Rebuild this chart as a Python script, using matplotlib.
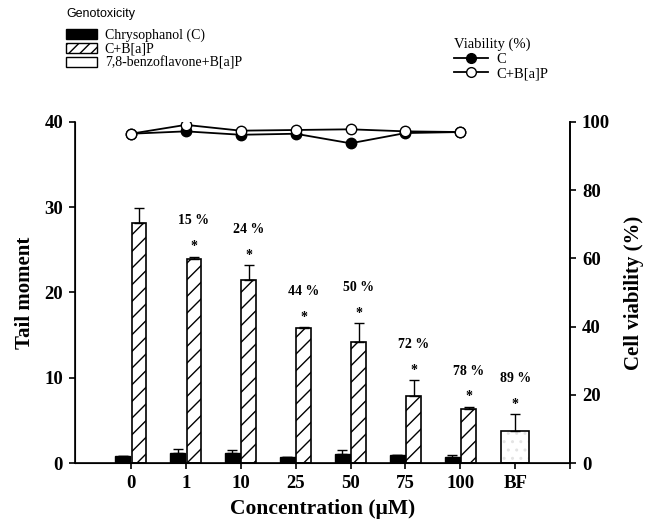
import numpy as np
import matplotlib
matplotlib.use('Agg')
import matplotlib.pyplot as plt
from matplotlib.patches import Patch
from matplotlib.lines import Line2D

conc_labels = ['0', '1', '10', '25', '50', '75', '100']
c_tail = [0.85, 1.2, 1.2, 0.7, 1.1, 0.9, 0.7]
c_err = [0.0, 0.4, 0.35, 0.0, 0.45, 0.05, 0.3]
cb_tail = [28.1, 23.9, 21.4, 15.8, 14.2, 7.9, 6.3]
cb_err = [1.8, 0.3, 1.8, 0.1, 2.2, 1.8, 0.3]
bf_tail = 3.8
bf_err = 1.9
inhib = ['', '15 %', '24 %', '44 %', '50 %', '72 %', '78 %']
bf_inhib = '89 %'
viab_c = [96.5, 97.2, 96.2, 96.5, 93.7, 96.7, 97.0]
viab_cb = [96.5, 99.1, 97.4, 97.6, 97.8, 97.2, 97.0]

serif = 'Liberation Serif'
plt.rcParams['font.family'] = serif
plt.rcParams['hatch.linewidth'] = 1.0

fig = plt.figure(figsize=(6.45, 5.25), dpi=100)
ax = fig.add_axes([0.116, 0.118, 0.768, 0.650])

x = np.arange(len(conc_labels))
w = 0.27
gap = 0.015
ekw = dict(ecolor='black', elinewidth=1.0, capsize=3.5, capthick=1.0)

# Chrysophanol alone: black bars left of tick
ax.bar(x - gap - w / 2, c_tail, width=w, color='black', edgecolor='black', linewidth=1.0)
ax.errorbar(x - gap - w / 2, c_tail, yerr=[np.zeros(len(c_err)), c_err], fmt='none', **ekw)

# C + B[a]P: hatched bars right of tick
ax.bar(x + gap + w / 2, cb_tail, width=w, color='white', edgecolor='black',
       linewidth=1.2, hatch='//')
ax.errorbar(x + gap + w / 2, cb_tail, yerr=[np.zeros(len(cb_err)), cb_err], fmt='none', **ekw)

# 7,8-benzoflavone + B[a]P
bf_x = len(conc_labels)
ax.bar(bf_x, bf_tail, width=0.51, color='white', edgecolor='#e4e4e4', linewidth=0, hatch='..')
ax.bar(bf_x, bf_tail, width=0.51, color='none', edgecolor='black', linewidth=1.2)
ax.errorbar(bf_x, bf_tail, yerr=[[0], [bf_err]], fmt='none', **ekw)

# asterisks and inhibition percentages
tops = [(xi, h + e, lab) for xi, h, e, lab in zip(x + gap + w / 2, cb_tail, cb_err, inhib)]
tops.append((bf_x, bf_tail + bf_err, bf_inhib))
for xi, top, lab in tops:
    if not lab:
        continue
    ax.annotate('*', (xi, top), xytext=(0, 2.5), textcoords='offset points',
                ha='center', va='bottom', fontsize=10, fontweight='bold')
    ax.annotate(lab, (xi, top), xytext=(0, 21), textcoords='offset points',
                ha='center', va='bottom', fontsize=10, fontweight='bold')

ax.set_xlim(-1.02, 8)
ax.set_ylim(0, 40)
ax.set_yticks([0, 10, 20, 30, 40])
ax.set_xticks(list(x) + [bf_x, bf_x + 1])
ax.set_xticklabels(conc_labels + ['BF', ''])
ax.spines['top'].set_visible(False)
for s in ['left', 'right', 'bottom']:
    ax.spines[s].set_linewidth(1.2)
ax.tick_params(direction='out', length=4.5, width=1.2, labelsize=13.5, pad=4)
for t in ax.get_xticklabels() + ax.get_yticklabels():
    t.set_fontweight('bold')
ax.set_ylabel('Tail moment', fontsize=15, fontweight='bold', labelpad=7)
ax.set_xlabel('Concentration (\u03bcM)', fontsize=15.5, fontweight='bold', labelpad=5)

ax2 = ax.twinx()
ax2.set_ylim(0, 100)
ax2.set_yticks([0, 20, 40, 60, 80, 100])
ax2.spines['top'].set_visible(False)
ax2.spines['right'].set_linewidth(1.2)
ax2.tick_params(direction='out', length=4.5, width=1.2, labelsize=13.5, pad=4)
for t in ax2.get_yticklabels():
    t.set_fontweight('bold')
ax2.plot(x, viab_c, color='black', lw=1.3, marker='o', ms=7.5,
         mfc='black', mec='black', mew=1.0)
ax2.plot(x, viab_cb, color='black', lw=1.3, marker='o', ms=7.5,
         mfc='white', mec='black', mew=1.0)
ax2.set_ylabel('Cell viability (%)', fontsize=15, fontweight='bold', labelpad=10)

# legends
geno_handles = [Patch(facecolor='black', edgecolor='black'),
                Patch(facecolor='white', edgecolor='black', hatch='///'),
                Patch(facecolor='white', edgecolor='black')]
leg1 = fig.legend(geno_handles, ['Chrysophanol (C)', 'C+B[a]P', '7,8-benzoflavone+B[a]P'],
                  loc='upper left', bbox_to_anchor=(0.088, 1.003), frameon=False,
                  fontsize=10, title='Genotoxicity',
                  title_fontproperties={'family': 'Liberation Sans', 'size': 9},
                  handlelength=2.2, handleheight=0.75, handletextpad=0.55,
                  labelspacing=0.05, borderaxespad=0.3)
leg1._legend_box.align = 'left'
leg1._legend_box.sep = 6

via_handles = [Line2D([], [], color='black', lw=1.3, marker='o', ms=7, mfc='black', mec='black'),
               Line2D([], [], color='black', lw=1.3, marker='o', ms=7, mfc='white', mec='black')]
leg2 = fig.legend(via_handles, ['C', 'C+B[a]P'], loc='upper left',
                  bbox_to_anchor=(0.688, 0.948), frameon=False, fontsize=10.5,
                  title='Viability (%)', title_fontproperties={'family': serif, 'size': 10.5},
                  handlelength=2.3, handletextpad=0.6, labelspacing=0.1, borderaxespad=0.3)
leg2._legend_box.align = 'left'

fig.savefig('out.png', dpi=100)
